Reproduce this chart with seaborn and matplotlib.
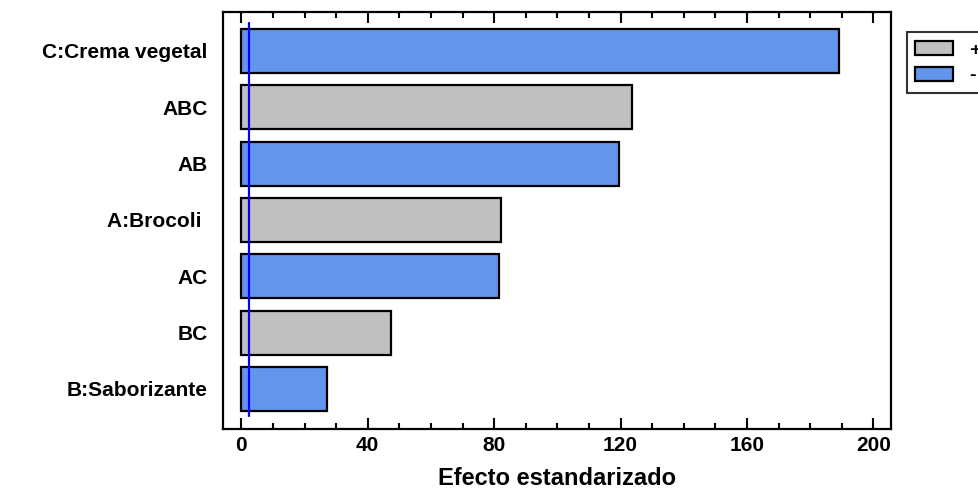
import matplotlib
matplotlib.use("Agg")
import matplotlib.pyplot as plt
from matplotlib.ticker import MultipleLocator
import seaborn as sns
import pandas as pd

# Standardized effects (Pareto chart)
factors = ["C:Crema vegetal", "ABC", "AB", "A:Brocoli ", "AC", "BC", "B:Saborizante"]
effects = [189.1, 123.7, 119.6, 82.2, 81.4, 47.4, 27.0]
signs = ["-", "+", "-", "+", "-", "+", "-"]
sign_order = ["+", "-"]
sign_colors = {"+": "#C0C0C0", "-": "#6495ED"}
critical_value = 2.447
x_ticks = [0, 40, 80, 120, 160, 200]

df = pd.DataFrame({"factor": factors, "effect": effects, "sign": signs})

sns.set_style("white")
plt.rcParams["font.family"] = ["Liberation Sans", "DejaVu Sans"]
plt.rcParams["font.weight"] = "bold"
plt.rcParams["text.color"] = "black"
plt.rcParams["xtick.color"] = "black"
plt.rcParams["ytick.color"] = "black"
plt.rcParams["axes.labelcolor"] = "black"

fig = plt.figure(figsize=(9.79, 4.94), dpi=100)
ax = fig.add_axes([0.2278, 0.1316, 0.6823, 0.8441])

sns.barplot(data=df, x="effect", y="factor", hue="sign", hue_order=sign_order,
            palette=sign_colors, order=factors, orient="h", dodge=False,
            width=0.78, saturation=1, edgecolor="black", linewidth=1.6, ax=ax)

ax.axvline(critical_value, ymin=0.031, ymax=0.974, color="#0000FF", lw=1.6)

ax.set_xlim(-5.8, 205.6)
ax.set_ylim(6.71, -0.69)
ax.set_xticks(x_ticks)
ax.xaxis.set_minor_locator(MultipleLocator(10))
ax.tick_params(axis="x", which="major", direction="in", length=8, width=1.5,
               top=True, bottom=True, labelsize=15, pad=5, colors="black")
ax.tick_params(axis="x", which="minor", direction="in", length=4, width=1.5,
               top=True, bottom=True)
ax.tick_params(axis="y", which="both", length=0, labelsize=15, pad=11,
               colors="black")
for lbl in ax.get_xticklabels() + ax.get_yticklabels():
    lbl.set_fontweight("bold")

for sp in ax.spines.values():
    sp.set_visible(True)
    sp.set_color("black")
    sp.set_linewidth(1.6)

ax.set_ylabel("")
ax.set_xlabel("Efecto estandarizado", fontsize=17, fontweight="bold",
              labelpad=9, color="black")

handles, labels = ax.get_legend_handles_labels()
ax.legend(handles, labels, loc="upper left", bbox_to_anchor=(1.0235, 0.951),
          borderaxespad=0, frameon=True, fancybox=False, edgecolor="black",
          handlelength=1.95, handleheight=0.72, labelspacing=0.4,
          handletextpad=0.8, borderpad=0.45,
          prop={"weight": "bold", "size": 14})
ax.get_legend().get_frame().set_linewidth(1.5)

fig.savefig("out.png", dpi=100, facecolor="white")
